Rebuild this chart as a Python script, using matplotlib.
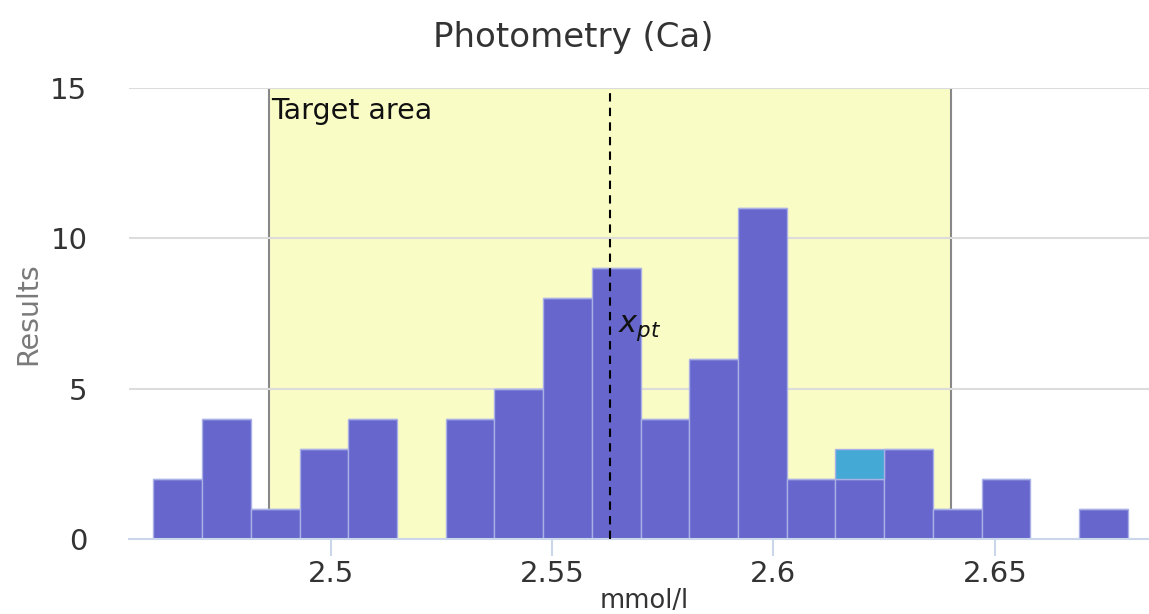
import matplotlib
matplotlib.use('Agg')
import matplotlib.pyplot as plt
import numpy as np

# Histogram data (mmol/l)
bin_start = 2.46
bin_width = 0.011
counts = [2, 4, 1, 3, 4, 0, 4, 5, 8, 9, 4, 6, 11, 2, 2, 3, 1, 2, 0, 1]
highlight = [0, 0, 0, 0, 0, 0, 0, 0, 0, 0, 0, 0, 0, 0, 1, 0, 0, 0, 0, 0]

x_pt = 2.5632
target_low = 2.486
target_high = 2.640

x_ticks = [2.5, 2.55, 2.6, 2.65]
x_tick_labels = ['2.5', '2.55', '2.6', '2.65']
y_ticks = [0, 5, 10, 15]

fig = plt.figure(figsize=(11.49, 6.14), dpi=100)
ax = fig.add_axes([129 / 1149, 75 / 614, 1 - 129 / 1149, 451 / 614])

lefts = bin_start + bin_width * np.arange(len(counts))

# target area
ax.axvspan(target_low, target_high, color='#fafcc6', zorder=0, lw=0)
ax.axvline(target_low, color='#888888', lw=1.5, zorder=1)
ax.axvline(target_high, color='#888888', lw=1.5, zorder=1)
ax.text(target_low + 0.0005, 14.7, 'Target area', fontsize=20.5, color='#111111',
        ha='left', va='top', zorder=5)

# grid
for y in y_ticks[1:]:
    ax.axhline(y, color='#dcdcdc', lw=1.5, zorder=1)

ax.bar(lefts, counts, width=bin_width, align='edge', color='#6666cc',
       edgecolor='#a9b0e6', linewidth=1, zorder=2)
ax.bar(lefts, highlight, width=bin_width, bottom=counts, align='edge',
       color='#45a9d5', edgecolor='#a9b0e6', linewidth=1, zorder=2)

ax.axvline(x_pt, color='black', lw=1.5, ls=(0, (4, 3)), zorder=4)
ax.text(x_pt + 0.0018, 7.0, r'$x_{pt}$', fontsize=22, color='#111111',
        ha='left', va='center', zorder=5)

ax.set_xlim(2.4545, 2.6848)
ax.set_ylim(0, 15)
ax.set_xticks(x_ticks)
ax.set_xticklabels(x_tick_labels)
ax.set_yticks(y_ticks)

for side in ['top', 'right', 'left']:
    ax.spines[side].set_visible(False)
ax.spines['bottom'].set_color('#ccd6eb')
ax.spines['bottom'].set_linewidth(1.5)
ax.spines['bottom'].set_zorder(3)

ax.tick_params(axis='x', colors='#ccd6eb', length=12, width=1.5, pad=3,
               labelsize=21, labelcolor='#333333')
ax.tick_params(axis='y', length=0, pad=30, labelsize=21, labelcolor='#333333')

ax.set_xlabel('mmol/l', fontsize=18.5, color='#333333')
ax.xaxis.set_label_coords(0.505, -0.108)
ax.set_ylabel('Results', fontsize=20.5, color='#7a7a7a', labelpad=5.5)

fig.suptitle('Photometry (Ca)', fontsize=24.5, color='#333333', x=573 / 1149, y=1 - 37 / 614,
             va='center')

fig.savefig('out.png', dpi=100, facecolor='white')
